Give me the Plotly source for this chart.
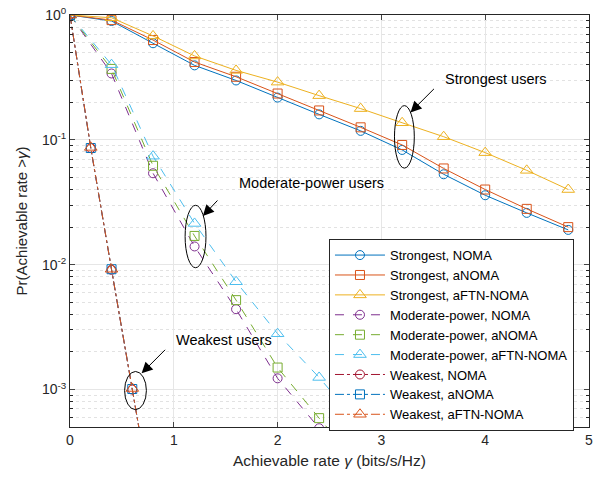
import plotly.graph_objects as go

# Achievable-rate CCDF for the three user classes under NOMA, aNOMA and aFTN-NOMA
rate_strong = [0, 0.4, 0.8, 1.2, 1.6, 2.0, 2.4, 2.8, 3.2, 3.6, 4.0, 4.4, 4.8]
strong_noma = [1.0, 0.895, 0.594, 0.395, 0.299, 0.218, 0.160, 0.118, 0.083, 0.053, 0.036, 0.026, 0.019]
strong_anoma = [1.0, 0.91, 0.63, 0.42, 0.32, 0.235, 0.172, 0.126, 0.091, 0.059, 0.040, 0.028, 0.020]
strong_aftn = [1.0, 0.95, 0.68, 0.47, 0.36, 0.29, 0.226, 0.178, 0.137, 0.106, 0.079, 0.057, 0.040]

rate_mod = [0, 0.4, 0.8, 1.2, 1.6, 2.0, 2.4, 2.8]
mod_noma = [1.0, 0.34, 0.054, 0.014, 0.0044, 0.00123, 0.00049, 0.0002]
mod_anoma = [1.0, 0.37, 0.062, 0.017, 0.0052, 0.0015, 0.00059, 0.00024]
mod_aftn = [1.0, 0.40, 0.074, 0.0214, 0.0073, 0.0028, 0.00125, 0.00051]

rate_weak = [0, 0.2, 0.4, 0.6, 0.8]
weak_noma = [1.0, 0.086, 0.0091, 0.00100, 0.00011]
weak_anoma = [1.0, 0.086, 0.0092, 0.00101, 0.00011]
weak_aftn = [1.0, 0.087, 0.0092, 0.00102, 0.00011]

x_ticks = [0, 1, 2, 3, 4, 5]
y_ticks = [1, 0.1, 0.01, 0.001]
y_tick_text = ["10<sup>0</sup>", "10<sup>-1</sup>", "10<sup>-2</sup>", "10<sup>-3</sup>"]

BLUE, ORANGE, YELLOW = "#0072BD", "#D95319", "#EDB120"
PURPLE, GREEN, CYAN, RED = "#7E2F8E", "#77AC30", "#4DBEEE", "#A2142F"

series = [
    ("Strongest, NOMA", rate_strong, strong_noma, BLUE, "circle-open", "solid"),
    ("Strongest, aNOMA", rate_strong, strong_anoma, ORANGE, "square-open", "solid"),
    ("Strongest, aFTN-NOMA", rate_strong, strong_aftn, YELLOW, "triangle-up-open", "solid"),
    ("Moderate-power, NOMA", rate_mod, mod_noma, PURPLE, "circle-open", "dash"),
    ("Moderate-power, aNOMA", rate_mod, mod_anoma, GREEN, "square-open", "dash"),
    ("Moderate-power, aFTN-NOMA", rate_mod, mod_aftn, CYAN, "triangle-up-open", "dash"),
    ("Weakest, NOMA", rate_weak, weak_noma, RED, "circle-open", "dashdot"),
    ("Weakest, aNOMA", rate_weak, weak_anoma, BLUE, "square-open", "dashdot"),
    ("Weakest, aFTN-NOMA", rate_weak, weak_aftn, ORANGE, "triangle-up-open", "dashdot"),
]

fig = go.Figure()
for name, xs, ys, color, symbol, dash in series:
    size = 11 if symbol.startswith("triangle") else 9
    fig.add_trace(go.Scatter(
        x=xs, y=ys, name=name, mode="lines+markers",
        line=dict(color=color, width=1, dash=dash),
        marker=dict(symbol=symbol, size=size, color=color, line=dict(width=1, color=color)),
    ))

# callout labels: (text, x, log10 y)
labels = [
    ("Strongest users", 4.10, -0.516),
    ("Moderate-power users", 2.33, -1.347),
    ("Weakest users", 1.48, -2.60),
]
# arrows: head (x, log10 y) and tail offset in px
arrows = [
    (3.28, -0.78, 25, -25),
    (1.28, -1.61, 16, -17),
    (0.69, -2.87, 25, -25),
]
# ellipses around grouped markers: x0, x1, y0, y1 in data units
ellipses = [
    (3.126, 3.317, 0.0594, 0.188),
    (1.109, 1.310, 0.00946, 0.0299),
    (0.526, 0.736, 0.00069, 0.001396),
]

annotations = []
for text, x, ly in labels:
    annotations.append(dict(x=x, y=ly, xref="x", yref="y", text=text, showarrow=False,
                            font=dict(size=14.5, color="#000000")))
for x, ly, ax, ay in arrows:
    annotations.append(dict(x=x, y=ly, xref="x", yref="y", text="", showarrow=True,
                            ax=ax, ay=ay, arrowhead=2, arrowsize=2.2, arrowwidth=1,
                            arrowcolor="#000000", standoff=0))

shapes = [dict(type="circle", xref="x", yref="y", x0=a, x1=b, y0=c, y1=d,
               line=dict(color="#000000", width=1)) for a, b, c, d in ellipses]

minor_vals = [m * 10 ** e for e in range(-4, 0) for m in range(2, 10)]

fig.update_layout(
    width=598, height=478,
    margin=dict(l=70, r=5, t=15, b=51),
    paper_bgcolor="white", plot_bgcolor="white",
    font=dict(family="Liberation Sans, Arial, sans-serif", size=13, color="#262626"),
    annotations=annotations,
    shapes=shapes,
    legend=dict(x=0.499, y=0.456, xanchor="left", yanchor="top",
                bgcolor="white", bordercolor="#262626", borderwidth=1,
                font=dict(size=13, color="#000000"), itemwidth=50,
                tracegroupgap=0),
    showlegend=True,
)
fig.update_xaxes(
    range=[0, 5], tickvals=x_ticks, ticks="inside", ticklen=5,
    showline=True, linecolor="#262626", linewidth=1, mirror="ticks",
    showgrid=True, gridcolor="#e6e6e6", zeroline=False,
    tickfont=dict(size=14),
    title=dict(text="Achievable rate <i>γ</i> (bits/s/Hz)", font=dict(size=15.5), standoff=8),
)
fig.update_yaxes(
    type="log", range=[-3.3, 0], tickvals=y_ticks, ticktext=y_tick_text,
    ticks="inside", ticklen=5,
    showline=True, linecolor="#262626", linewidth=1, mirror="ticks",
    showgrid=True, gridcolor="#e6e6e6", zeroline=False,
    tickfont=dict(size=14),
    minor=dict(tickvals=minor_vals, ticks="inside", ticklen=3, tickcolor="#262626",
               showgrid=True, gridcolor="#e2e2e2", griddash="dot"),
    title=dict(text="Pr(Achievable rate ><i>γ</i>)", font=dict(size=15), standoff=10),
)

fig.write_html("out.html")
